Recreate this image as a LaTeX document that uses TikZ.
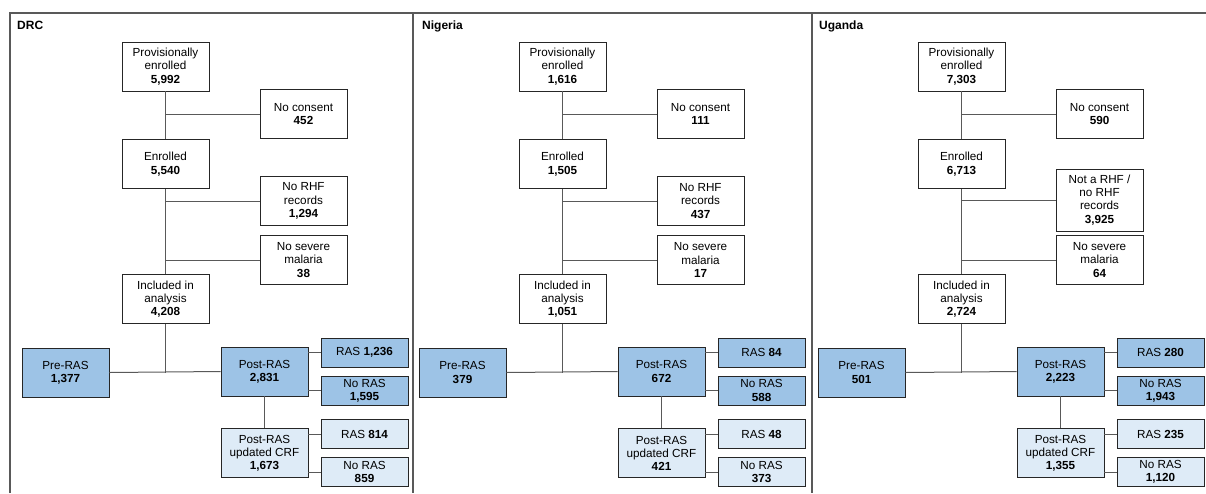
\documentclass[tikz,border=0pt]{standalone}
\usepackage{fontspec}
\setmainfont{Liberation Sans}
\usepackage{tikz}
\usetikzlibrary{positioning}
\definecolor{rasblue}{HTML}{9DC3E6}
\definecolor{raslight}{HTML}{DEEBF7}
\definecolor{linegrey}{HTML}{595959}

\begin{document}
\begin{tikzpicture}[x=1pt, y=-1pt,
	flowbox/.style={draw=black!85, line width=0.8pt, fill=white, minimum width=87pt, minimum height=49pt, inner sep=2pt, align=center, font=\fontsize{11.7}{13.3}\selectfont},
	rasbox/.style={flowbox, minimum height=29pt},
	wire/.style={draw=linegrey, line width=1pt},
	panelframe/.style={draw=linegrey, line width=1.2pt},
	paneltitle/.style={anchor=base west, inner sep=0pt, font=\fontsize{12}{14}\selectfont\bfseries}]
	\useasboundingbox (0,0) rectangle (1206,493);
	\draw [panelframe] (10,493) -- (10,13) -- (1206,13); \draw [panelframe] (413,13) -- (413,493); \draw [panelframe] (812,13) -- (812,493);
	\node [paneltitle] (drctitle) at (17,29.5) {DRC}; \node [paneltitle] (nigtitle) at (422,29.5) {Nigeria}; \node [paneltitle] (ugatitle) at (819,29.5) {Uganda};
	% DRC
	\begin{scope}[name prefix=drc-]
	\node [flowbox] (prov) at (165.5,66.5) {Provisionally\\enrolled\\\textbf{5,992}};
	\node [flowbox] (nocon) at (303.5,114) {No consent\\\textbf{452}};
	\node [flowbox, below=48pt of prov] (enr) {Enrolled\\\textbf{5,540}};
	\node [flowbox] (rhf) at (303.5,201) {No RHF\\records\\\textbf{1,294}};
	\node [flowbox] (sev) at (303.5,260) {No severe\\malaria\\\textbf{38}};
	\node [flowbox, below=85pt of enr] (inc) {Included in\\analysis\\\textbf{4,208}};
	\node [flowbox, fill=rasblue] (pre) at (65.5,372.5) {Pre-RAS\\\textbf{1,377}};
	\node [flowbox, fill=rasblue] (post) at (264.5,371.5) {Post-RAS\\\textbf{2,831}};
	\node [rasbox, fill=rasblue] (ras) at (364.5,352.5) {RAS \textbf{1,236}};
	\node [rasbox, fill=rasblue] (noras) at (364.5,390.5) {No RAS\\\textbf{1,595}};
	\node [flowbox, fill=raslight, below=32pt of post] (upd) {Post-RAS\\updated CRF\\\textbf{1,673}};
	\node [rasbox, fill=raslight] (updras) at (364.5,434) {RAS \textbf{814}};
	\node [rasbox, fill=raslight] (updnoras) at (364.5,472) {No RAS\\\textbf{859}};
	\draw [wire] (prov.south) -- (enr.north); \draw [wire] (enr.south) -- (inc.north); \draw [wire] (inc.south) -- (inc.south |- pre.east);
	\draw [wire] (prov.south |- nocon.west) -- (nocon.west); \draw [wire] (enr.south |- rhf.west) -- (rhf.west); \draw [wire] (enr.south |- sev.west) -- (sev.west);
	\draw [wire] (pre.east) -- (post.west); \draw [wire] (post.south) -- (upd.north);
	\draw [wire] (post.east |- ras.west) -- (ras.west); \draw [wire] (post.east |- noras.west) -- (noras.west);
	\draw [wire] (upd.east |- updras.west) -- (updras.west); \draw [wire] (upd.east |- updnoras.west) -- (updnoras.west);
	\end{scope}
	% Nigeria
	\begin{scope}[xshift=397pt, name prefix=nig-]
	\node [flowbox] (prov) at (165.5,66.5) {Provisionally\\enrolled\\\textbf{1,616}};
	\node [flowbox] (nocon) at (303.5,114) {No consent\\\textbf{111}};
	\node [flowbox, below=48pt of prov] (enr) {Enrolled\\\textbf{1,505}};
	\node [flowbox] (rhf) at (303.5,201) {No RHF\\records\\\textbf{437}};
	\node [flowbox] (sev) at (303.5,260) {No severe\\malaria\\\textbf{17}};
	\node [flowbox, below=85pt of enr] (inc) {Included in\\analysis\\\textbf{1,051}};
	\node [flowbox, fill=rasblue] (pre) at (65.5,372.5) {Pre-RAS\\\textbf{379}};
	\node [flowbox, fill=rasblue] (post) at (264.5,371.5) {Post-RAS\\\textbf{672}};
	\node [rasbox, fill=rasblue] (ras) at (364.5,352.5) {RAS \textbf{84}};
	\node [rasbox, fill=rasblue] (noras) at (364.5,390.5) {No RAS\\\textbf{588}};
	\node [flowbox, fill=raslight, below=32pt of post] (upd) {Post-RAS\\updated CRF\\\textbf{421}};
	\node [rasbox, fill=raslight] (updras) at (364.5,434) {RAS \textbf{48}};
	\node [rasbox, fill=raslight] (updnoras) at (364.5,472) {No RAS\\\textbf{373}};
	\draw [wire] (prov.south) -- (enr.north); \draw [wire] (enr.south) -- (inc.north); \draw [wire] (inc.south) -- (inc.south |- pre.east);
	\draw [wire] (prov.south |- nocon.west) -- (nocon.west); \draw [wire] (enr.south |- rhf.west) -- (rhf.west); \draw [wire] (enr.south |- sev.west) -- (sev.west);
	\draw [wire] (pre.east) -- (post.west); \draw [wire] (post.south) -- (upd.north);
	\draw [wire] (post.east |- ras.west) -- (ras.west); \draw [wire] (post.east |- noras.west) -- (noras.west);
	\draw [wire] (upd.east |- updras.west) -- (updras.west); \draw [wire] (upd.east |- updnoras.west) -- (updnoras.west);
	\end{scope}
	% Uganda
	\begin{scope}[xshift=796pt, name prefix=uga-]
	\node [flowbox] (prov) at (165.5,66.5) {Provisionally\\enrolled\\\textbf{7,303}};
	\node [flowbox] (nocon) at (303.5,114) {No consent\\\textbf{590}};
	\node [flowbox, below=48pt of prov] (enr) {Enrolled\\\textbf{6,713}};
	\node [flowbox, minimum height=62pt] (rhf) at (303.5,200) {Not a RHF /\\no RHF\\records\\\textbf{3,925}};
	\node [flowbox] (sev) at (303.5,260) {No severe\\malaria\\\textbf{64}};
	\node [flowbox, below=85pt of enr] (inc) {Included in\\analysis\\\textbf{2,724}};
	\node [flowbox, fill=rasblue] (pre) at (65.5,372.5) {Pre-RAS\\\textbf{501}};
	\node [flowbox, fill=rasblue] (post) at (264.5,371.5) {Post-RAS\\\textbf{2,223}};
	\node [rasbox, fill=rasblue] (ras) at (364.5,352.5) {RAS \textbf{280}};
	\node [rasbox, fill=rasblue] (noras) at (364.5,390.5) {No RAS\\\textbf{1,943}};
	\node [flowbox, fill=raslight, below=32pt of post] (upd) {Post-RAS\\updated CRF\\\textbf{1,355}};
	\node [rasbox, fill=raslight] (updras) at (364.5,434) {RAS \textbf{235}};
	\node [rasbox, fill=raslight] (updnoras) at (364.5,472) {No RAS\\\textbf{1,120}};
	\draw [wire] (prov.south) -- (enr.north); \draw [wire] (enr.south) -- (inc.north); \draw [wire] (inc.south) -- (inc.south |- pre.east);
	\draw [wire] (prov.south |- nocon.west) -- (nocon.west); \draw [wire] (enr.south |- rhf.west) -- (rhf.west); \draw [wire] (enr.south |- sev.west) -- (sev.west);
	\draw [wire] (pre.east) -- (post.west); \draw [wire] (post.south) -- (upd.north);
	\draw [wire] (post.east |- ras.west) -- (ras.west); \draw [wire] (post.east |- noras.west) -- (noras.west);
	\draw [wire] (upd.east |- updras.west) -- (updras.west); \draw [wire] (upd.east |- updnoras.west) -- (updnoras.west);
	\end{scope}
\end{tikzpicture}
\end{document}
